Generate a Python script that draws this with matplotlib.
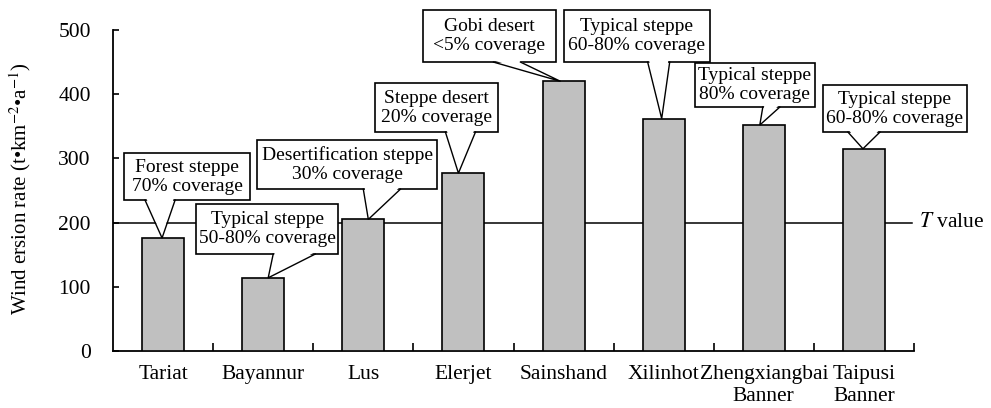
import matplotlib.pyplot as plt
from matplotlib.patches import Rectangle, Polygon

plt.rcParams['font.family'] = ['Liberation Serif', 'DejaVu Serif']
plt.rcParams['mathtext.fontset'] = 'stix'

sites = ['Tariat', 'Bayannur', 'Lus', 'Elerjet', 'Sainshand', 'Xilinhot',
         'Zhengxiangbai\nBanner', 'Taipusi\nBanner']
erosion = [176, 114, 205, 277, 420, 362, 352, 315]
t_value = 200
notes = ['Forest steppe\n70% coverage',
         'Typical steppe\n50-80% coverage',
         'Desertification steppe\n30% coverage',
         'Steppe desert\n20% coverage',
         'Gobi desert\n<5% coverage',
         'Typical steppe\n60-80% coverage',
         'Typical steppe\n80% coverage',
         'Typical steppe\n60-80% coverage']

# callout layout: box x0, x1, y0, y1, tail base x0, x1, tip x
boxes = [(-0.39, 0.87, 235, 308, -0.18, 0.12, -0.01),
         (0.33, 1.75, 151, 229, 1.10, 1.52, 1.05),
         (0.94, 2.74, 252, 329, 2.00, 2.37, 2.05),
         (2.12, 3.35, 341, 417, 2.82, 3.12, 2.95),
         (2.60, 3.92, 450, 531, 3.30, 3.57, 3.97),
         (4.00, 5.46, 450, 531, 4.84, 5.06, 4.98),
         (5.31, 6.51, 380, 449, 5.99, 6.16, 5.96),
         (6.59, 8.03, 341, 414, 6.84, 7.16, 6.99)]

fig = plt.figure(figsize=(9.91, 4.08), dpi=100)
ax = fig.add_axes([113 / 991, 57 / 408, 801 / 991, 321 / 408])

x = range(len(sites))
ax.bar(x, erosion, width=0.42, color='#c0c0c0', edgecolor='black', linewidth=1.2, zorder=3)
ax.axhline(t_value, xmin=0, xmax=0.997, color='black', linewidth=1.1, zorder=2)
ax.text(7.55, t_value, r'$\mathit{T}$ value', fontsize=15.5, va='center', ha='left')

for note, (x0, x1, y0, y1, b0, b1, tx), val in zip(notes, boxes, erosion):
    ax.add_patch(Rectangle((x0, y0), x1 - x0, y1 - y0, facecolor='white',
                           edgecolor='black', linewidth=1.2, zorder=5, clip_on=False))
    ax.add_patch(Polygon([(b0 + 0.015, y0 + 2), (b1 - 0.015, y0 + 2), (tx, val)],
                         closed=True, facecolor='white', edgecolor='none',
                         zorder=6, clip_on=False))
    ax.plot([b0, tx, b1], [y0, val, y0], color='black', linewidth=1.0,
            zorder=7, clip_on=False, solid_joinstyle='miter')
    ax.text((x0 + x1) / 2, (y0 + y1) / 2, note, ha='center', va='center',
            fontsize=14, linespacing=1.15, zorder=8)

ax.set_xlim(-0.5, 7.5)
ax.set_ylim(0, 500)
ax.set_yticks(range(0, 501, 100))
ax.set_xticks(list(x))
ax.set_xticklabels(sites, fontsize=15.5)
ax.set_xticks([i + 0.5 for i in x], minor=True)
ax.tick_params(axis='x', which='major', length=0, pad=10)
ax.tick_params(axis='x', which='minor', direction='in', length=6, width=1.2)
ax.tick_params(axis='y', direction='in', length=4, width=1.2, labelsize=15.5, pad=16)
for s in ['top', 'right']:
    ax.spines[s].set_visible(False)
for s in ['left', 'bottom']:
    ax.spines[s].set_linewidth(1.3)

ax.set_ylabel(r'Wind ersion rate (t•km$^{-2}$•a$^{-1}$)', fontsize=15)
ax.yaxis.set_label_coords(-0.1, 0.505)

fig.savefig('out.png', dpi=100)
